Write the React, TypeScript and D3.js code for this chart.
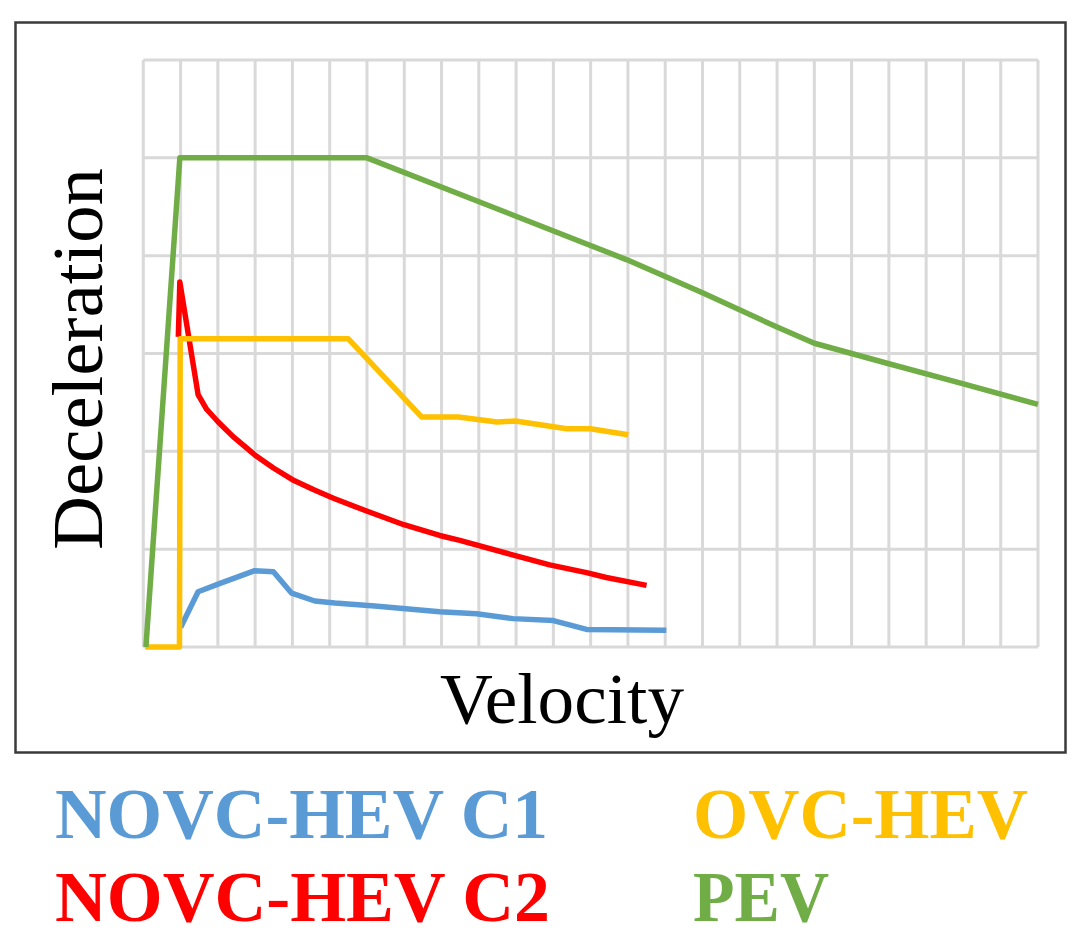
import React from "react";
import * as d3 from "d3";

// grid ticks
const xTicks = d3.range(0, 25);
const yTicks = d3.range(0, 7);

// NOVC-HEV C1 (blue)
const c1X = [1.0, 1.47, 2.06, 2.99, 3.49, 3.98, 4.6, 5.14, 6.21, 7.95, 8.94, 9.92, 11.0, 11.89, 14.03];
const c1Y = [0.2, 0.565, 0.65, 0.78, 0.77, 0.55, 0.47, 0.45, 0.42, 0.36, 0.34, 0.29, 0.27, 0.18, 0.17];

// NOVC-HEV C2 (red)
const c2X = [0.94, 0.98, 1.47, 1.7, 2.01, 2.41, 3.0, 3.49, 4.0, 4.56, 5.1, 5.99, 6.99, 7.95, 8.49, 9.83, 10.9, 11.89, 12.42, 13.5];
const c2Y = [3.17, 3.73, 2.58, 2.43, 2.3, 2.15, 1.96, 1.83, 1.71, 1.61, 1.52, 1.39, 1.25, 1.14, 1.09, 0.95, 0.84, 0.76, 0.71, 0.63];

// OVC-HEV (yellow)
const ovcX = [0.05, 0.97, 0.99, 5.5, 7.47, 8.45, 9.49, 9.98, 11.36, 11.99, 13.01];
const ovcY = [0, 0, 3.15, 3.15, 2.35, 2.35, 2.3, 2.31, 2.23, 2.23, 2.17];

// PEV (green)
const pevX = [0.07, 0.98, 6.0, 12.96, 15.0, 17.0, 18.0, 20.0, 22.0, 24.0];
const pevY = [0, 5.0, 5.0, 3.96, 3.62, 3.27, 3.105, 2.895, 2.69, 2.48];

const seriesNames = ["NOVC-HEV C1", "NOVC-HEV C2", "OVC-HEV", "PEV"];
const seriesColors = ["#5B9BD5", "#FF0000", "#FFC000", "#70AD47"];

export default function App() {
  const W = 1083;
  const H = 939;
  const x = d3.scaleLinear().domain([0, 24]).range([143.3, 1038]);
  const y = d3.scaleLinear().domain([0, 6]).range([647, 60]);

  const line = d3
    .line<[number, number]>()
    .x((d) => x(d[0]))
    .y((d) => y(d[1]))
    .curve(d3.curveLinear);

  const zip = (xs: number[], ys: number[]) => xs.map((v, i) => [v, ys[i]] as [number, number]);
  const series = [zip(c1X, c1Y), zip(c2X, c2Y), zip(ovcX, ovcY), zip(pevX, pevY)];

  const font = "'Liberation Serif', 'Times New Roman', serif";

  return (
    <div style={{ position: "absolute", left: 0, top: 0 }}>
      <svg width={W} height={H} viewBox={`0 0 ${W} ${H}`} style={{ display: "block", background: "#fff" }}>
        <rect x={0} y={0} width={W} height={H} fill="#fff" />
        {/* frame */}
        <rect x={15.5} y={22.5} width={1050} height={730} fill="none" stroke="#3a3a3a" strokeWidth={2.5} />
        {/* grid */}
        <g stroke="#d9d9d9" strokeWidth={3}>
          {xTicks.map((t) => (
            <line key={"vx" + t} x1={x(t)} x2={x(t)} y1={y(0)} y2={y(6)} />
          ))}
          {yTicks.map((t) => (
            <line key={"hy" + t} x1={x(0)} x2={x(24)} y1={y(t)} y2={y(t)} />
          ))}
        </g>
        {/* series */}
        {series.map((s, i) => (
          <path
            key={seriesNames[i]}
            d={line(s) || ""}
            fill="none"
            stroke={seriesColors[i]}
            strokeWidth={5.5}
            strokeLinejoin="round"
            strokeLinecap="butt"
          />
        ))}
        {/* axis titles */}
        <text
          x={0}
          y={0}
          transform={`translate(101.5,359) rotate(-90)`}
          textAnchor="middle"
          fontFamily={font}
          fontSize={71}
          fill="#000"
          textLength={382}
          lengthAdjust="spacingAndGlyphs"
        >
          Deceleration
        </text>
        <text
          x={440}
          y={723}
          fontFamily={font}
          fontSize={72}
          fill="#000"
          textLength={244}
          lengthAdjust="spacingAndGlyphs"
        >
          Velocity
        </text>
        {/* legend */}
        <g fontFamily={font} fontWeight="bold" fontSize={72}>
          <text x={55} y={838} fill={seriesColors[0]} textLength={493} lengthAdjust="spacingAndGlyphs">
            {seriesNames[0]}
          </text>
          <text x={55} y={921} fill={seriesColors[1]} textLength={495} lengthAdjust="spacingAndGlyphs">
            {seriesNames[1]}
          </text>
          <text x={693} y={838} fill={seriesColors[2]} textLength={335} lengthAdjust="spacingAndGlyphs">
            {seriesNames[2]}
          </text>
          <text x={693} y={921} fill={seriesColors[3]} textLength={136} lengthAdjust="spacingAndGlyphs">
            {seriesNames[3]}
          </text>
        </g>
      </svg>
    </div>
  );
}
